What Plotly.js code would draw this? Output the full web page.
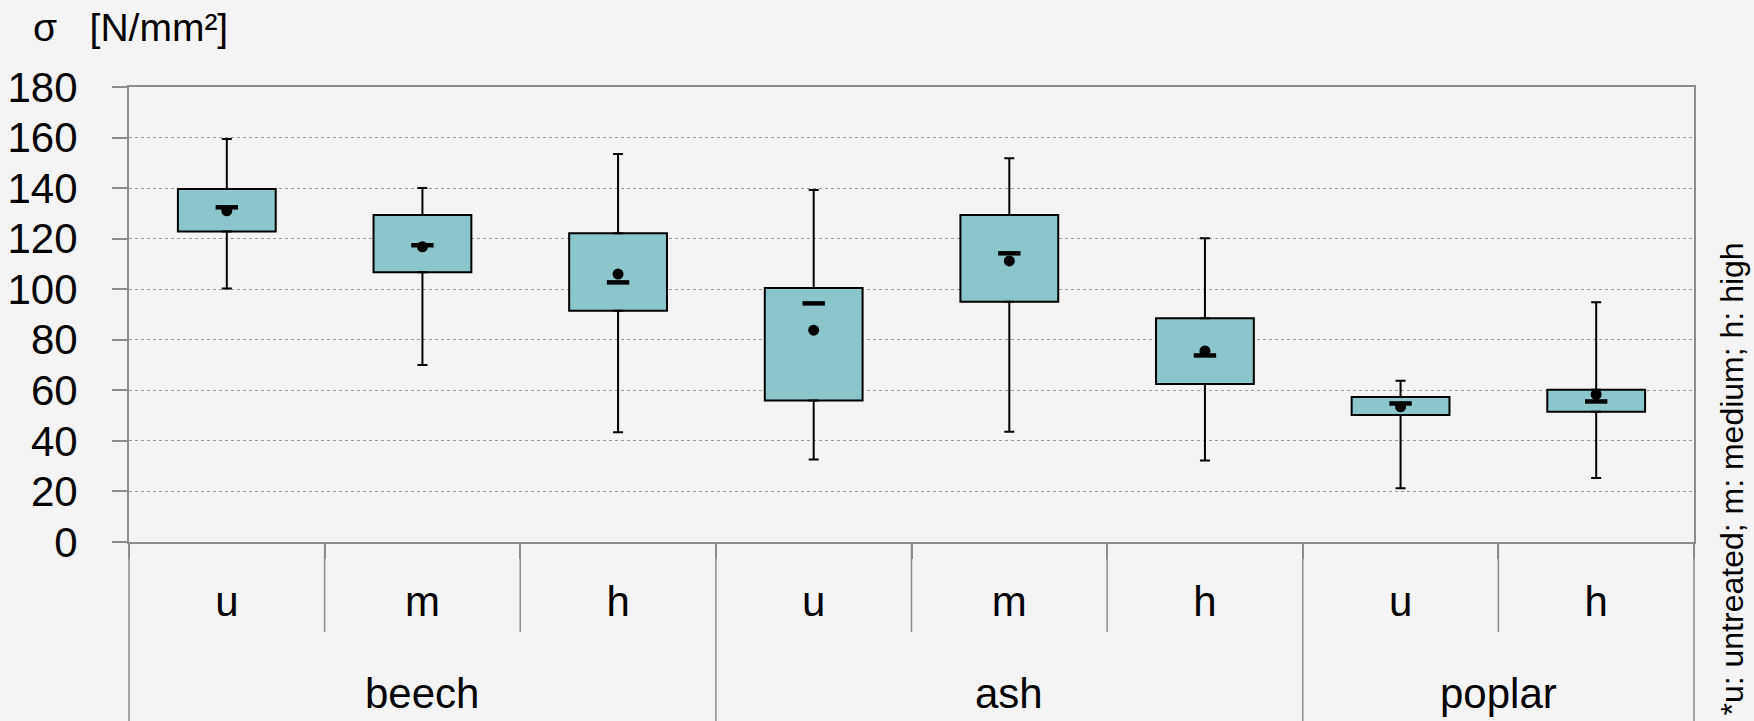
<!DOCTYPE html>
<html>
<head>
<meta charset="utf-8">
<script src="https://cdn.plot.ly/plotly-3.0.1.min.js"></script>
<style>
html, body { margin: 0; padding: 0; background: #f4f4f4; }
#chart { width: 1754px; height: 721px; }
</style>
</head>
<body>
<div id="chart"></div>
<script>
// ---- data ----
const groups     = ['beech', 'beech', 'beech', 'ash', 'ash', 'ash', 'poplar', 'poplar'];
const treatments = ['u', 'm', 'h', 'u', 'm', 'h', 'u', 'h'];
const minVals    = [100.3, 70.0, 43.4, 32.6, 43.6, 32.2, 21.3, 25.3];
const q1Vals     = [122.8, 106.7, 91.5, 56.0, 95.0, 62.5, 50.2, 51.5];
const medianVals = [132.4, 117.4, 102.7, 94.4, 114.2, 73.8, 54.8, 55.6];
const meanVals   = [131.0, 116.8, 106.0, 83.8, 111.2, 75.6, 53.5, 58.4];
const q3Vals     = [139.6, 129.4, 122.1, 100.5, 129.4, 88.5, 57.4, 60.2];
const maxVals    = [159.4, 140.0, 153.5, 139.3, 151.8, 120.2, 63.8, 94.8];
const yTickVals  = [0, 20, 40, 60, 80, 100, 120, 140, 160, 180];
const yTitle     = 'σ   [N/mm²]';
const sideNote   = '*u: untreated; m: medium; h: high';

// ---- derived ----
const n = groups.length;
const xCats = groups.map((g, i) => g + ' ' + treatments[i]);
const boxHeights = q3Vals.map((q, i) => q - q1Vals[i]);
const upperLen = maxVals.map((m, i) => m - q3Vals[i]);
const lowerLen = q1Vals.map((q, i) => q - minVals[i]);
const zeros = xCats.map(() => 0);

// ---- geometry / style ----
const W = 1754, H = 721;
const M = { l: 129, r: 60, t: 87, b: 179, pad: 0 };
const plotW = W - M.l - M.r, plotH = H - M.t - M.b;
const px2x = p => (p - M.l) / plotW;
const px2y = p => (H - M.b - p) / plotH;
const FONT = 'Liberation Sans, Arial, sans-serif';
const AXIS_GREY = '#8c8c8c';
const BOX_FILL = '#8bc6cc';

const traces = [
  {
    type: 'bar', x: xCats, y: boxHeights, base: q1Vals, width: 0.5,
    marker: { color: BOX_FILL, line: { color: '#000000', width: 2 } },
    hoverinfo: 'skip'
  },
  {
    type: 'scatter', mode: 'markers', x: xCats, y: q3Vals,
    marker: { size: 1, opacity: 0 },
    error_y: { type: 'data', symmetric: false, array: upperLen, arrayminus: zeros,
               color: '#000000', thickness: 2, width: 5 },
    hoverinfo: 'skip'
  },
  {
    type: 'scatter', mode: 'markers', x: xCats, y: q1Vals,
    marker: { size: 1, opacity: 0 },
    error_y: { type: 'data', symmetric: false, array: zeros, arrayminus: lowerLen,
               color: '#000000', thickness: 2, width: 5 },
    hoverinfo: 'skip'
  },
  {
    type: 'scatter', mode: 'markers', x: xCats, y: medianVals,
    marker: { symbol: 'line-ew', size: 16, color: '#000000', line: { color: '#000000', width: 4.5 } },
    hoverinfo: 'skip'
  },
  {
    type: 'scatter', mode: 'markers', x: xCats, y: meanVals,
    marker: { symbol: 'circle', size: 11, color: '#000000' },
    hoverinfo: 'skip'
  }
];

// dividers below the x axis
const shapes = [];
for (let i = 0; i <= n; i++) {
  const isGroupEdge = (i === 0 || i === n || groups[i] !== groups[i - 1]);
  shapes.push({
    type: 'line', xref: 'paper', yref: 'paper',
    x0: i / n, x1: i / n, y0: 0, y1: isGroupEdge ? px2y(H) : px2y(632),
    line: { color: AXIS_GREY, width: 1.5 }
  });
}

// group labels
const annotations = [];
const seen = [];
groups.forEach((g) => { if (!seen.includes(g)) seen.push(g); });
seen.forEach((g) => {
  const idx = groups.map((gg, i) => gg === g ? i : -1).filter(i => i >= 0);
  const center = (idx[0] + idx[idx.length - 1] + 1) / 2 / n;
  annotations.push({
    text: g, xref: 'paper', yref: 'paper', x: center, y: px2y(693),
    xanchor: 'center', yanchor: 'middle', showarrow: false,
    font: { family: FONT, size: 42, color: '#000000' }
  });
});
annotations.push({
  text: yTitle, xref: 'paper', yref: 'paper', x: px2x(31), y: px2y(27),
  xanchor: 'left', yanchor: 'middle', showarrow: false,
  font: { family: FONT, size: 39, color: '#000000' }
});
annotations.push({
  text: sideNote, xref: 'paper', yref: 'paper', x: px2x(1731), y: px2y(479.5),
  xanchor: 'center', yanchor: 'middle', textangle: -90, showarrow: false,
  font: { family: FONT, size: 32, color: '#000000' }
});

const layout = {
  width: W, height: H,
  margin: M,
  paper_bgcolor: '#f4f4f4', plot_bgcolor: '#f4f4f4',
  showlegend: false,
  bargap: 0.5,
  font: { family: FONT, color: '#000000' },
  xaxis: {
    type: 'category',
    tickmode: 'array', tickvals: xCats, ticktext: treatments,
    tickson: 'boundaries',
    ticks: 'outside', ticklen: 15, tickwidth: 2, tickcolor: AXIS_GREY,
    ticklabelstandoff: 22,
    tickfont: { family: FONT, size: 42, color: '#000000' },
    showgrid: false, zeroline: false,
    showline: true, linecolor: AXIS_GREY, linewidth: 2, mirror: true,
    range: [-0.5, n - 0.5], fixedrange: true
  },
  yaxis: {
    range: [0, 180], tickmode: 'array', tickvals: yTickVals,
    ticks: 'outside', ticklen: 15, tickwidth: 2, tickcolor: AXIS_GREY,
    ticklabelstandoff: 26,
    tickfont: { family: FONT, size: 42, color: '#000000' },
    showgrid: true, gridcolor: '#9a9a9a', gridwidth: 1, griddash: 'dot',
    zeroline: false,
    showline: true, linecolor: AXIS_GREY, linewidth: 2, mirror: true,
    fixedrange: true
  },
  shapes: shapes,
  annotations: annotations
};

Plotly.newPlot('chart', traces, layout, { displayModeBar: false, staticPlot: true });
</script>
</body>
</html>
